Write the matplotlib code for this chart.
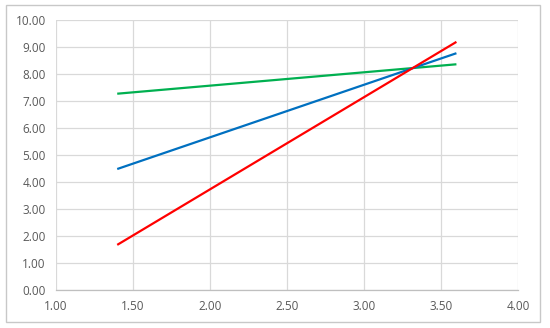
import matplotlib.pyplot as plt
from matplotlib.patches import Rectangle

x = [1.4, 3.6]
green = [7.27, 8.36]
blue = [4.48, 8.77]
red = [1.67, 9.19]

plt.rcParams['font.family'] = ['Open Sans', 'DejaVu Sans']

fig = plt.figure(figsize=(5.5, 3.28), dpi=100)
ax = fig.add_axes([0.101, 0.116, 0.841, 0.823])

ax.plot(x, green, color='#00B050', lw=1.6, solid_capstyle='butt', zorder=3)
ax.plot(x, blue, color='#0070C0', lw=1.6, solid_capstyle='butt', zorder=3)
ax.plot(x, red, color='#FF0000', lw=1.6, solid_capstyle='butt', zorder=3)

ax.set_xlim(1, 4)
ax.set_ylim(0, 10)
ax.set_xticks([1 + 0.5 * i for i in range(7)])
ax.set_yticks(range(11))
ax.set_xticklabels(['%.2f' % v for v in ax.get_xticks()])
ax.set_yticklabels(['%.2f' % v for v in ax.get_yticks()])
ax.grid(True, color='#d9d9d9', lw=0.9)
ax.set_axisbelow(True)
for s in ['top', 'right', 'left']:
    ax.spines[s].set_visible(False)
ax.spines['bottom'].set_color('#bfbfbf')
ax.spines['bottom'].set_linewidth(0.9)
ax.tick_params(length=0, labelsize=8.5, colors='#595959', pad=7)

fig.patches.append(Rectangle((0.010, 0.018), 0.972, 0.968, transform=fig.transFigure,
                             fill=False, edgecolor='#c8c8c8', lw=1.0))

fig.savefig('out.png', dpi=100)
